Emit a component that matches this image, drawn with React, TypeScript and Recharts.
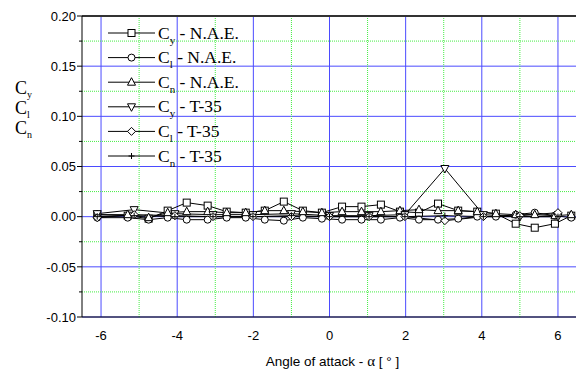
import React from "react";
import {
  LineChart,
  Line,
  XAxis,
  YAxis,
  CartesianGrid,
  ReferenceLine,
  Legend,
} from "recharts";

// N.A.E. measurements (angle of attack in degrees)
const naeAlpha = [
  -6.1, -5.3, -4.75, -4.25, -3.75, -3.2, -2.7, -2.2, -1.7, -1.2, -0.7, -0.2, 0.33, 0.84, 1.35,
  1.85, 2.35, 2.85, 3.38, 3.88, 4.37, 4.89, 5.39, 5.92, 6.35,
];
const naeCy = [
  0.002, 0.001, -0.002, 0.006, 0.014, 0.011, 0.005, 0.004, 0.006, 0.015, 0.006, 0.004, 0.01, 0.01,
  0.012, 0.005, 0.004, 0.013, 0.006, 0.005, 0.003, -0.007, -0.011, -0.007, 0.001,
];
const naeCl = [
  -0.001, -0.001, -0.003, -0.001, -0.003, -0.003, -0.001, -0.001, -0.003, -0.004, -0.001, -0.002,
  -0.003, -0.003, -0.003, -0.001, -0.003, -0.003, -0.002, 0.0, 0.0, 0.002, 0.004, 0.001, -0.001,
];
const naeCn = [
  0.002, 0.002, -0.001, 0.004, 0.005, 0.005, 0.004, 0.004, 0.006, 0.006, 0.005, 0.004, 0.005, 0.005,
  0.005, 0.006, 0.007, 0.006, 0.006, 0.005, 0.003, 0.002, 0.002, 0.001, 0.002,
];

// T-35 measurements
const t35Alpha = [-6.1, -5.13, -4.06, -3.06, -2.01, -1.0, 0.0, 1.04, 1.98, 3.03, 4.04, 5.0, 6.0];
const t35Cy = [0.003, 0.007, 0.003, 0.002, 0.002, 0.003, 0.001, 0.001, 0.002, 0.048, 0.002, 0.0, 0.0];
const t35Cl = [-0.001, 0.002, 0.001, 0.0, 0.0, 0.0, 0.0, 0.0, 0.0, -0.004, 0.0, 0.001, 0.004];
const t35Cn = [0.0, 0.001, 0.0, 0.0, 0.0, 0.001, 0.0, 0.0, 0.0, 0.001, 0.0, 0.0, 0.0];

const xDomain = [-6.5, 6.5];
const yDomain = [-0.1, 0.2];
const xTicks = [-6, -4, -2, 0, 2, 4, 6];
const xMinor = [-5, -3, -1, 1, 3, 5];
const yTicks = [-0.1, -0.05, 0, 0.05, 0.1, 0.15, 0.2];
const yMinor = [-0.075, -0.025, 0.025, 0.075, 0.125, 0.175];
const yTickLabels = ["-0.10", "-0.05", "0.00", "0.05", "0.10", "0.15", "0.20"];

const legendRows = [
  { sub: "y", name: "- N.A.E.", shape: "square" },
  { sub: "l", name: "- N.A.E.", shape: "circle" },
  { sub: "n", name: "- N.A.E.", shape: "up" },
  { sub: "y", name: "- T-35", shape: "down" },
  { sub: "l", name: "- T-35", shape: "diamond" },
  { sub: "n", name: "- T-35", shape: "plus" },
];

const naeData = naeAlpha.map((a, i) => ({ a, cy: naeCy[i], cl: naeCl[i], cn: naeCn[i] }));
const t35Data = t35Alpha.map((a, i) => ({ a, cy: t35Cy[i], cl: t35Cl[i], cn: t35Cn[i] }));

const SERIF = "'Liberation Serif', 'Times New Roman', serif";
const SANS = "'Liberation Sans', Arial, sans-serif";
const MINOR = "#44ee44";

// major grid positions through the axis scale (fallback: linear map of the domain)
const vGen = (values: number[]) => (p: any) => {
  const sc = p?.xAxis?.scale;
  if (typeof sc === "function") return values.map((v) => sc(v));
  const o = p.offset;
  return values.map((v) => o.left + ((v - xDomain[0]) / (xDomain[1] - xDomain[0])) * o.width);
};
const hGen = (values: number[]) => (p: any) => {
  const sc = p?.yAxis?.scale;
  if (typeof sc === "function") return values.map((v) => sc(v));
  const o = p.offset;
  return values.map((v) => o.top + ((yDomain[1] - v) / (yDomain[1] - yDomain[0])) * o.height);
};

function Mark({ cx, cy, shape }: { cx?: number; cy?: number; shape: string }) {
  if (cx == null || cy == null) return null;
  const st = { fill: "#fff", stroke: "#000", strokeWidth: 1 };
  switch (shape) {
    case "square":
      return <rect x={cx - 3.5} y={cy - 3.5} width={7} height={7} {...st} />;
    case "circle":
      return <circle cx={cx} cy={cy} r={3.5} {...st} />;
    case "up":
      return <polygon points={`${cx},${cy - 4.5} ${cx + 4},${cy + 3} ${cx - 4},${cy + 3}`} {...st} />;
    case "down":
      return <polygon points={`${cx},${cy + 4.5} ${cx + 4},${cy - 3} ${cx - 4},${cy - 3}`} {...st} />;
    case "diamond":
      return <polygon points={`${cx},${cy - 4} ${cx + 4},${cy} ${cx},${cy + 4} ${cx - 4},${cy}`} {...st} />;
    default:
      return <path d={`M${cx - 3},${cy}H${cx + 3}M${cx},${cy - 3}V${cy + 3}`} stroke="#000" strokeWidth={1} />;
  }
}

const dotFor = (id: string, shape: string) => (p: any) =>
  <Mark key={`${id}-${p.index}`} cx={p.cx} cy={p.cy} shape={shape} />;

function YTick(props: any) {
  const { x, y, payload } = props;
  const idx = yTicks.indexOf(payload.value);
  const major = idx >= 0;
  return (
    <g>
      <line x1={major ? x + 1 : x + 3} x2={x + 6} y1={y} y2={y} stroke="#000" />
      {major && (
        <text x={x} y={y} dy="0.36em" textAnchor="end" fontFamily={SANS} fontSize={13} fill="#000">
          {yTickLabels[idx]}
        </text>
      )}
    </g>
  );
}

function YLabel() {
  const rows = ["y", "l", "n"];
  return (
    <g>
      {rows.map((s, i) => (
        <text key={s} x={15} y={94 + i * 20} fontFamily={SERIF} fontSize={18} fill="#000">
          C
          <tspan fontSize={10} dy={4}>
            {s}
          </tspan>
        </text>
      ))}
    </g>
  );
}

function XLabel(props: any) {
  const vb = props.viewBox || { x: 82, y: 317, width: 495 };
  return (
    <text x={vb.x + vb.width / 2 + 3} y={vb.y + 49} textAnchor="middle" fontFamily={SANS} fontSize={13.5} fill="#000">
      Angle of attack -{" "}
      <tspan fontFamily={SERIF} fontSize={15}>
        α
      </tspan>{" "}
      [ ° ]
    </text>
  );
}

function LegendBox() {
  return (
    <svg width={170} height={160} style={{ display: "block", pointerEvents: "none" }}>
      {legendRows.map((r, i) => {
        const y = 15 + i * 24.6;
        return (
          <g key={i}>
            <line x1={8} x2={55} y1={y} y2={y} stroke="#000" />
            <Mark cx={31.5} cy={y} shape={r.shape} />
            <text x={58} y={y + 5.5} fontFamily={SERIF} fontSize={17.5} fill="#000">
              C
              <tspan fontSize={11} dy={5}>
                {r.sub}
              </tspan>
              <tspan dy={-5}> {r.name}</tspan>
            </text>
          </g>
        );
      })}
    </svg>
  );
}

export default function App() {
  return (
    <div style={{ position: "absolute", left: 0, top: 0, width: 576, height: 374, overflow: "hidden", background: "#fff" }}>
      <LineChart width={577} height={374} margin={{ top: 16, right: 0, left: 0, bottom: 0 }}>
        <CartesianGrid
          horizontalCoordinatesGenerator={hGen(yTicks)}
          verticalCoordinatesGenerator={vGen(xTicks)}
          stroke="#4b4bff"
        />
        {xMinor.map((v) => (
          <ReferenceLine key={`vx${v}`} x={v} stroke={MINOR} strokeDasharray="1 1" strokeWidth={1} />
        ))}
        {yMinor.map((v) => (
          <ReferenceLine key={`hy${v}`} y={v} stroke={MINOR} strokeDasharray="1 1" strokeWidth={1} />
        ))}
        <XAxis
          type="number"
          dataKey="a"
          domain={xDomain}
          ticks={xTicks}
          allowDataOverflow
          tickLine={false}
          tickMargin={8}
          height={57}
          axisLine={{ stroke: "#000" }}
          tick={{ fill: "#000", fontFamily: SANS, fontSize: 13 }}
          label={{ content: XLabel }}
        />
        <YAxis
          type="number"
          domain={yDomain}
          ticks={[...yTicks, ...yMinor].sort((p, q) => p - q)}
          allowDataOverflow
          width={82}
          tickLine={false}
          tickSize={0}
          tickMargin={6}
          axisLine={{ stroke: "#000" }}
          tick={YTick}
          label={{ content: YLabel }}
        />
        <ReferenceLine y={0.2} stroke="#333" strokeWidth={2} />
        <Line data={naeData} dataKey="cy" stroke="#000" strokeWidth={1} dot={dotFor("ncy", "square")} activeDot={false} isAnimationActive={false} legendType="none" />
        <Line data={naeData} dataKey="cl" stroke="#000" strokeWidth={1} dot={dotFor("ncl", "circle")} activeDot={false} isAnimationActive={false} legendType="none" />
        <Line data={naeData} dataKey="cn" stroke="#000" strokeWidth={1} dot={dotFor("ncn", "up")} activeDot={false} isAnimationActive={false} legendType="none" />
        <Line data={t35Data} dataKey="cy" stroke="#000" strokeWidth={1} dot={dotFor("tcy", "down")} activeDot={false} isAnimationActive={false} legendType="none" />
        <Line data={t35Data} dataKey="cl" stroke="#000" strokeWidth={1} dot={dotFor("tcl", "diamond")} activeDot={false} isAnimationActive={false} legendType="none" />
        <Line data={t35Data} dataKey="cn" stroke="#000" strokeWidth={1} dot={dotFor("tcn", "plus")} activeDot={false} isAnimationActive={false} legendType="none" />
        <Legend
          layout="vertical"
          align="center"
          verticalAlign="middle"
          content={() => <LegendBox />}
          wrapperStyle={{ position: "absolute", left: 100, top: 18, width: 170, height: 160 }}
        />
      </LineChart>
    </div>
  );
}
